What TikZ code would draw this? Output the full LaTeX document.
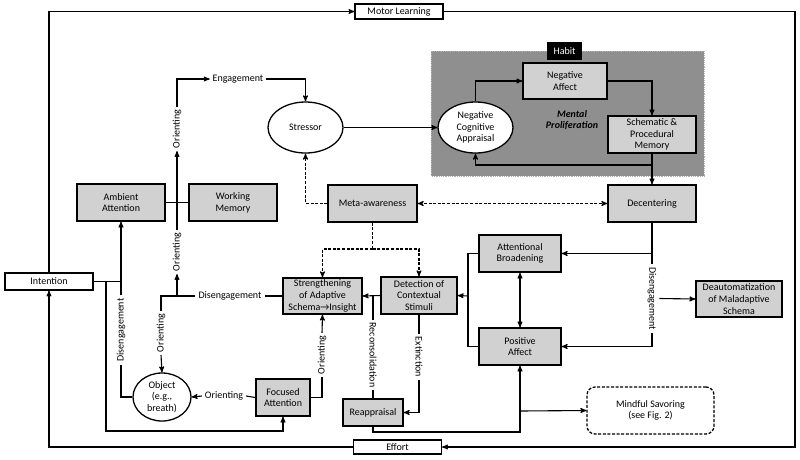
\documentclass[tikz,border=0pt]{standalone}
\usepackage{fontspec}
\setmainfont{Carlito}
\usetikzlibrary{arrows,shapes.geometric}

\definecolor{boxgray}{gray}{0.82}
\definecolor{habitgray}{gray}{0.56}

\begin{document}
\begin{tikzpicture}[x=1pt,y=-1pt,->,>=stealth',line width=1.1pt,
    font=\fontsize{10}{11.7}\selectfont,
    gray box/.style={rectangle,draw,fill=boxgray,line width=1.3pt,align=center,inner sep=1pt,minimum width=88pt,minimum height=37pt},
    white box/.style={rectangle,draw,fill=white,line width=1.1pt,inner sep=1pt,minimum width=88pt,minimum height=15pt},
    oval/.style={ellipse,draw,fill=white,line width=1.3pt,align=center,inner sep=0pt,minimum width=75pt,minimum height=51pt},
    dash line/.style={dash pattern=on 3pt off 1.6pt},
    line label/.style={inner sep=2.5pt}]

  \useasboundingbox (0,0) rectangle (800,459);

  % habit area
  \fill[habitgray] (431,51) rectangle (704,176);
  \draw[-,densely dotted,gray!60,line width=0.8pt] (431,51) rectangle (704,176);
  \node[fill=black,text=white,minimum width=35pt,minimum height=18pt,inner sep=0pt] (habit) at (564.5,51) {Habit};
  \node[font=\fontsize{10}{11.7}\selectfont\bfseries\itshape,align=center] (prolif) at (572,120) {Mental\\Proliferation};

  \node[white box] (motor) at (399,11.5) {Motor Learning};
  \node[white box,minimum height=14pt] (effort) at (397.5,447) {Effort};
  \node[white box,minimum height=17pt] (intention) at (49,281.5) {Intention};
  \node[gray box] (ambient) at (121,202.5) {Ambient\\Attention};
  \node[gray box] (wm) at (233,202.5) {Working\\Memory};
  \node[oval] (stressor) at (305.5,127.5) {Stressor};
  \node[gray box,minimum width=89pt] (meta) at (372.5,203.5) {Meta-awareness};
  \node[oval] (nca) at (475.5,127.5) {Negative\\Cognitive\\Appraisal};
  \node[gray box,minimum width=84pt,minimum height=36pt] (negaff) at (565,81) {Negative\\Affect};
  \node[gray box] (spm) at (652,134.5) {Schematic \&\\Procedural\\Memory};
  \node[gray box] (decent) at (652,203.5) {Decentering};
  \node[gray box,minimum width=79pt,minimum height=36pt] (strength) at (322.5,296) {Strengthening\\of Adaptive\\Schema→Insight};
  \node[gray box,minimum width=76pt] (detect) at (419,295.5) {Detection of\\Contextual\\Stimuli};
  \node[gray box,minimum width=82pt] (ab) at (520,253.5) {Attentional\\Broadening};
  \node[gray box,minimum width=82pt] (pa) at (520,346.5) {Positive\\Affect};
  \node[gray box,minimum width=86pt,minimum height=36pt] (deauto) at (739,299) {Deautomatization\\of Maladaptive\\Schema};
  \node[gray box,minimum width=54pt] (focused) at (283,397.5) {Focused\\Attention};
  \node[gray box,minimum width=60pt,minimum height=27pt] (reapp) at (373,412.5) {Reappraisal};
  \node[oval,minimum width=58pt,minimum height=48pt] (object) at (162,397) {Object\\(e.g.,\\breath)};
  \node[draw,dash line,rounded corners=8pt,line width=1.3pt,minimum width=127pt,minimum height=47pt,align=center] (savor) at (650.5,410.5) {Mindful Savoring\\(see Fig. 2)};

  % labels on the lines
  \node[line label] (engL) at (238,79) {Engagement};
  \node[line label,rotate=90] (orA) at (177,129) {Orienting};
  \node[line label,rotate=90] (orB) at (177,252) {Orienting};
  \node[line label] (disL) at (230,296) {Disengagement};
  \node[line label,rotate=90] (orC) at (161,333) {Orienting};
  \node[line label,rotate=90] (disLeft) at (121,330) {Disengagement};
  \node[line label] (orD) at (224,396) {Orienting};
  \node[line label,rotate=90] (orE) at (322,355) {Orienting};
  \node[line label,rotate=-90] (recL) at (373,355) {Reconsolidation};
  \node[line label,rotate=-90] (extL) at (419,357) {Extinction};
  \node[line label,rotate=-90] (disR) at (652,298.5) {Disengagement};

  \coordinate (frameSE) at (795,447);
  \coordinate (jIF) at (106,431);
  \coordinate (jD) at (177,296);
  \coordinate (jM) at (372.5,249);
  \coordinate (jS) at (652,165);
  \coordinate (jA) at (468,296);
  \coordinate (jR) at (373,296);
  \coordinate (jP) at (520,432);
  \coordinate (jMS) at (520,411);

  % outer loop
  \draw (intention.north) |- (motor.west);
  \draw (motor.east) -| (frameSE) -- (effort.east);
  \draw (effort.west) -| (intention.south);
  \draw (intention.east) -| (ambient.south);
  \draw (intention.east) -| (jIF) -| (focused.south);
  \draw[-] (object.west) -| (disLeft.west);
  \draw[-] (disLeft.east) -- (disLeft.east |- intention.east);

  % orienting / engagement
  \draw[-] (ambient) -- (wm);
  \draw[-] (strength.west) -- (disL.east);
  \draw[-] (disL.west) -- (jD);
  \draw (jD) -- (orB.west);
  \draw (orB.east) -- (orA.west);
  \draw (orA.east) |- (engL.west);
  \draw (engL.east) -| (stressor.north);
  \draw[-] (jD) -| (orC.east);
  \draw (orC.west) -- (object.north);
  \draw[-] (focused.west) -- (orD.east);
  \draw (orD.west) -- (object.east);
  \draw[-] (focused.east) -| (orE.west);
  \draw (orE.east) -- (strength.south);

  % meta-awareness
  \draw[dash line] (meta.west) -| (stressor.south);
  \draw[dash line,<->] (meta) -- (decent);
  \draw[dash line,-] (meta.south) -- (jM);
  \draw[dash line] (jM) -| (strength.north);
  \draw[dash line] (jM) -| (detect.north);

  % habit loop
  \draw (stressor) -- (nca);
  \draw (nca.north) |- (negaff.west);
  \draw (negaff.east) -| (spm.north);
  \draw (spm) -- (decent);
  \draw (jS) -| (nca.south);

  % decentering side
  \draw (decent.south) |- (ab.east);
  \draw[-] (decent.south) -- (disR.west);
  \draw (disR.east) |- (pa.east);
  \draw (disR.north) -- (deauto.west);
  \draw[-] (ab.west) -| (jA);
  \draw[-] (pa.west) -| (jA);
  \draw (jA) -- (detect.east);
  \draw[<->] (ab) -- (pa);
  \draw (detect.west) -- (strength.east);
  \draw[-] (reapp.north) -- (recL.east);
  \draw[-] (recL.west) -- (jR);
  \draw[-] (detect.south) -- (extL.west);
  \draw (extL.east) |- (reapp.east);
  \draw (reapp.south) |- (jP) -- (pa.south);
  \draw (jMS) -- (savor.west);
\end{tikzpicture}
\end{document}
